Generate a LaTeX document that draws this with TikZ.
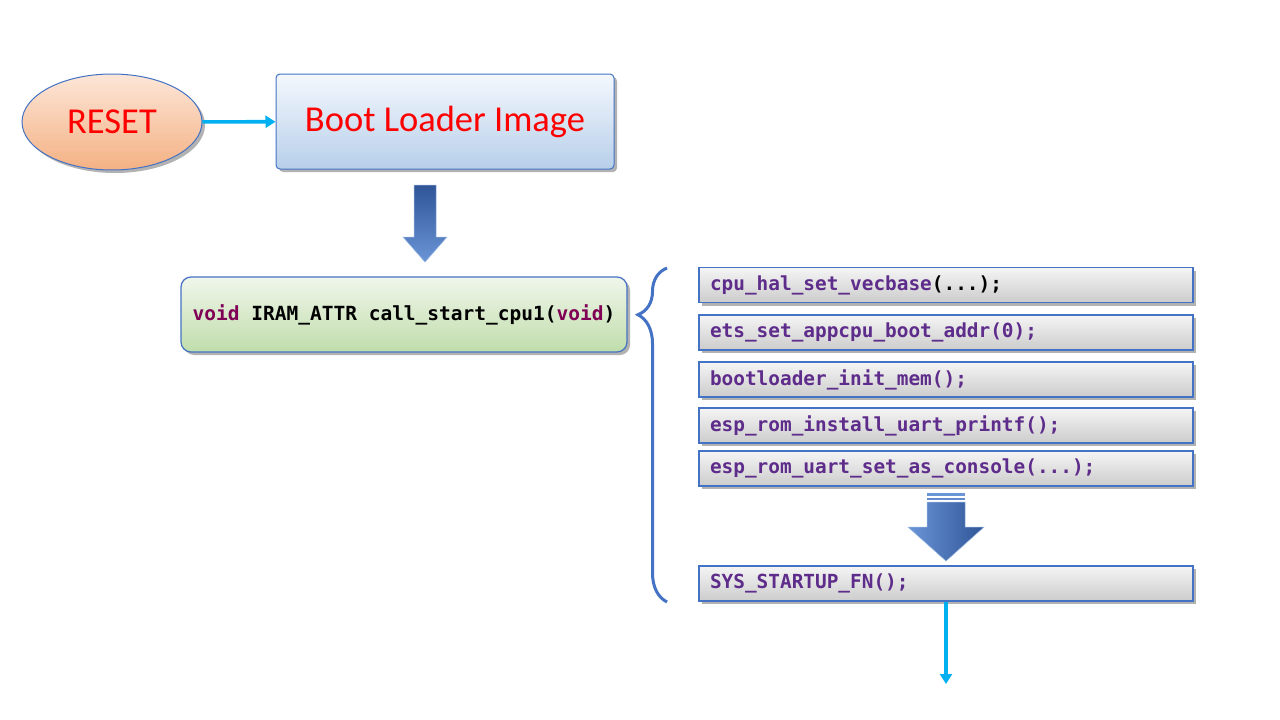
\documentclass[tikz,border=0pt]{standalone}
\usepackage{fontspec}
\newfontfamily\codefont{DejaVu Sans Mono}
\newfontfamily\titlefont{Carlito}
\usetikzlibrary{arrows.meta,positioning,calc,shapes.geometric,shadows,decorations.pathreplacing}
\definecolor{Edge}{HTML}{4472C4}
\definecolor{Sky}{HTML}{00B0F0}
\definecolor{Plum}{HTML}{7F0055}
\definecolor{Grape}{HTML}{5E2C8A}
\definecolor{Peach}{HTML}{F4B183}
\definecolor{PeachLt}{HTML}{FCE6D8}
\definecolor{Ice}{HTML}{F4F8FD}
\definecolor{IceDk}{HTML}{B7CFEA}
\definecolor{Sage}{HTML}{F0F6EB}
\definecolor{SageDk}{HTML}{C0DDAB}
\definecolor{Navy}{HTML}{2F5597}
\definecolor{Cobalt}{HTML}{6A95D6}

\tikzset{
  softshadow/.style={drop shadow={shadow xshift=3pt,shadow yshift=-3pt,opacity=0.3,fill=black}},
  callbox/.style={draw=Edge,line width=1.2pt,top color=white!96!black,bottom color=white!80!black,
    minimum width=494pt,minimum height=35pt,text width=472pt,inner xsep=11pt,align=left,
    font=\codefont\bfseries\fontsize{19.4}{22}\selectfont,text=Grape,softshadow},
  flow/.style={Sky,line width=3.6pt,-{Triangle[length=10pt,width=12pt]}},
}

\begin{document}
\begin{tikzpicture}[x=1pt,y=-1pt]
  \fill[white] (0,0) rectangle (1280,720);
  \useasboundingbox (0,0) rectangle (1280,720);

  % top row
  \node[ellipse,draw=Edge,line width=1pt,top color=PeachLt,bottom color=Peach,
        minimum width=180pt,minimum height=96pt,inner sep=0pt,softshadow,
        text=red,font=\titlefont\fontsize{36.5}{40}\selectfont] (reset) at (112,122) {RESET};
  \node[draw=Edge,line width=1pt,rounded corners=4pt,top color=Ice,bottom color=IceDk,
        minimum width=338pt,minimum height=95pt,softshadow,
        text=red,font=\titlefont\fontsize{36.5}{40}\selectfont] (boot) at (445,121.5) {Boot Loader Image};
  \draw[flow] (reset) -- (boot);

  % block arrow down to cpu1
  \shade[top color=Navy,bottom color=Cobalt,draw=Cobalt!70,line width=0.5pt]
    (414,185) -- (436,185) -- (436,237) -- (447,237) -- (425,262) -- (403,237) -- (414,237) -- cycle;

  \node[draw=Edge,line width=1.2pt,rounded corners=10pt,top color=Sage,bottom color=SageDk,
        minimum width=446pt,minimum height=75pt,softshadow,
        font=\codefont\bfseries\fontsize{19.5}{22}\selectfont] (cpu1) at (404,314.5)
        {{\color{Plum}void} IRAM\_ATTR call\_start\_cpu1({\color{Plum}void})};

  % the calls
  \node[callbox] (vec) at (946,285) {cpu\_hal\_set\_vecbase{\color{black}(...);}};
  \node[callbox] (boot0) at (946,332.5) {ets\_set\_appcpu\_boot\_addr(0);};
  \node[callbox] (mem) at (946,379.5) {bootloader\_init\_mem();};
  \node[callbox] (printf) at (946,425.5) {esp\_rom\_install\_uart\_printf();};
  \node[callbox] (console) at (946,468.5) {esp\_rom\_uart\_set\_as\_console(...);};

  \fill[Cobalt] (927,493) rectangle (965,495.5);
  \fill[Cobalt!85!Navy] (927,497.5) rectangle (965,500);
  \shade[left color=Cobalt,right color=Navy,draw=Cobalt!70,line width=0.5pt]
    (927,502) -- (965,502) -- (965,527) -- (984,527) -- (946,561) -- (908,527) -- (927,527) -- cycle;

  \node[callbox] (sys) at (946,583.5) {SYS\_STARTUP\_FN();};

  % brace
  \coordinate (brbot) at (667,602);
  \coordinate (brtop) at (667,268);
  \draw[Edge,line width=3pt,decorate,decoration={brace,amplitude=29pt,aspect=0.86}] (brbot) -- (brtop);

  \coordinate (next) at (946,684);
  \draw[flow] (sys.south) -- (next);
\end{tikzpicture}
\end{document}
